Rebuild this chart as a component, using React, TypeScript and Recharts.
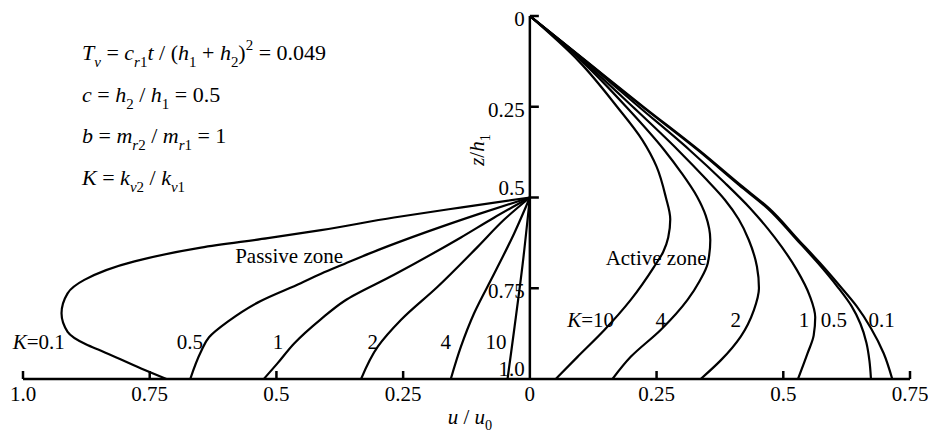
import React from "react";
import { LineChart, Line, XAxis, YAxis, ReferenceLine, ReferenceDot } from "recharts";

// Horizontal displacement u/u0 (passive side negative, active side positive) against depth z/h1.
const ACTIVE_K01 = [[0, 0], [0.112, 0.125], [0.224, 0.25], [0.333, 0.369], [0.416, 0.466], [0.472, 0.53], [0.53, 0.617], [0.572, 0.68], [0.613, 0.746], [0.645, 0.8], [0.673, 0.86], [0.698, 0.929], [0.715, 1.0]];
const ACTIVE_K05 = [[0, 0], [0.111, 0.125], [0.222, 0.25], [0.331, 0.369], [0.413, 0.466], [0.469, 0.53], [0.527, 0.617], [0.568, 0.68], [0.607, 0.746], [0.635, 0.8], [0.652, 0.847], [0.664, 0.9], [0.67, 0.95], [0.673, 1.0]];
const ACTIVE_K1 = [[0, 0], [0.11, 0.125], [0.215, 0.25], [0.315, 0.369], [0.385, 0.46], [0.435, 0.53], [0.483, 0.61], [0.527, 0.7], [0.552, 0.77], [0.563, 0.83], [0.56, 0.88], [0.548, 0.929], [0.529, 1.0]];
const ACTIVE_K2 = [[0, 0], [0.106, 0.125], [0.203, 0.25], [0.292, 0.369], [0.348, 0.45], [0.385, 0.507], [0.412, 0.56], [0.432, 0.617], [0.448, 0.69], [0.452, 0.75], [0.442, 0.81], [0.416, 0.883], [0.377, 0.948], [0.337, 1.0]];
const ACTIVE_K4 = [[0, 0], [0.103, 0.125], [0.19, 0.25], [0.265, 0.369], [0.298, 0.43], [0.33, 0.498], [0.347, 0.55], [0.356, 0.617], [0.351, 0.681], [0.335, 0.73], [0.311, 0.782], [0.258, 0.865], [0.199, 0.939], [0.163, 1.0]];
const ACTIVE_K10 = [[0, 0], [0.097, 0.125], [0.172, 0.25], [0.222, 0.342], [0.25, 0.415], [0.268, 0.498], [0.277, 0.56], [0.273, 0.61], [0.263, 0.65], [0.245, 0.691], [0.199, 0.782], [0.147, 0.865], [0.094, 0.939], [0.051, 1.0]];

const PASSIVE_K01 = [[0, 0.5], [-0.134, 0.527], [-0.268, 0.555], [-0.412, 0.59], [-0.517, 0.612], [-0.649, 0.638], [-0.78, 0.676], [-0.879, 0.727], [-0.912, 0.764], [-0.924, 0.819], [-0.912, 0.87], [-0.875, 0.905], [-0.846, 0.922], [-0.767, 0.971], [-0.717, 1.0]];
const PASSIVE_K05 = [[0, 0.5], [-0.1, 0.545], [-0.202, 0.594], [-0.3, 0.645], [-0.366, 0.683], [-0.412, 0.71], [-0.452, 0.736], [-0.531, 0.785], [-0.596, 0.842], [-0.633, 0.885], [-0.649, 0.925], [-0.67, 1.0]];
const PASSIVE_K1 = [[0, 0.5], [-0.07, 0.555], [-0.136, 0.61], [-0.268, 0.713], [-0.366, 0.785], [-0.412, 0.835], [-0.465, 0.902], [-0.498, 0.957], [-0.525, 1.0]];
const PASSIVE_K2 = [[0, 0.5], [-0.05, 0.56], [-0.103, 0.636], [-0.182, 0.746], [-0.254, 0.837], [-0.3, 0.911], [-0.333, 1.0]];
const PASSIVE_K4 = [[0, 0.5], [-0.031, 0.599], [-0.07, 0.709], [-0.11, 0.819], [-0.136, 0.911], [-0.156, 1.0]];
const PASSIVE_K10 = [[0, 0.5], [-0.014, 0.681], [-0.031, 0.865], [-0.044, 1.0]];

const SERIES = [
  { id: "a01", pts: ACTIVE_K01 },
  { id: "a05", pts: ACTIVE_K05 },
  { id: "a1", pts: ACTIVE_K1 },
  { id: "a2", pts: ACTIVE_K2 },
  { id: "a4", pts: ACTIVE_K4 },
  { id: "a10", pts: ACTIVE_K10 },
  { id: "p01", pts: PASSIVE_K01 },
  { id: "p05", pts: PASSIVE_K05 },
  { id: "p1", pts: PASSIVE_K1 },
  { id: "p2", pts: PASSIVE_K2 },
  { id: "p4", pts: PASSIVE_K4 },
  { id: "p10", pts: PASSIVE_K10 },
];

const X_TICKS = [-1, -0.75, -0.5, -0.25, 0, 0.25, 0.5, 0.75];
const X_TICK_LABELS = ["1.0", "0.75", "0.5", "0.25", "0", "0.25", "0.5", "0.75"];
const Y_TICKS = [0, 0.25, 0.5, 0.75, 1.0];
const Y_TICK_LABELS = ["0", "0.25", "0.5", "0.75", "1.0"];

// Curve annotations placed in data coordinates (u, z = text baseline)
const CURVE_LABELS = [
  { k: "0.1", prefix: true, u: -0.969, z: 0.917 },
  { k: "0.5", prefix: false, u: -0.671, z: 0.917 },
  { k: "1", prefix: false, u: -0.497, z: 0.917 },
  { k: "2", prefix: false, u: -0.31, z: 0.917 },
  { k: "4", prefix: false, u: -0.166, z: 0.917 },
  { k: "10", prefix: false, u: -0.067, z: 0.917 },
  { k: "10", prefix: true, u: 0.12, z: 0.856 },
  { k: "4", prefix: false, u: 0.258, z: 0.856 },
  { k: "2", prefix: false, u: 0.406, z: 0.856 },
  { k: "1", prefix: false, u: 0.541, z: 0.856 },
  { k: "0.5", prefix: false, u: 0.6, z: 0.856 },
  { k: "0.1", prefix: false, u: 0.694, z: 0.856 },
];
const ZONE_LABELS = [
  { text: "Passive zone", u: -0.475, z: 0.68 },
  { text: "Active zone", u: 0.249, z: 0.686 },
];

const FONT = "Liberation Serif, Tinos, Times New Roman, DejaVu Serif, serif";
const LABEL_SIZE = 21;
const TXT: React.CSSProperties = { fontFamily: FONT };

type Seg = { t: string; i?: boolean; s?: "sub" | "sup" };

function rich(segs: Seg[], size: number) {
  let shift = 0;
  return segs.map((sg, k) => {
    const target = sg.s === "sub" ? size * 0.3 : sg.s === "sup" ? -size * 0.45 : 0;
    const dy = target - shift;
    shift = target;
    return (
      <tspan key={k} dy={dy} fontStyle={sg.i ? "italic" : "normal"} fontSize={sg.s ? size * 0.68 : size}>
        {sg.t}
      </tspan>
    );
  });
}

const FORMULA: Seg[][] = [
  [
    { t: "T", i: true }, { t: "v", i: true, s: "sub" }, { t: " = " }, { t: "c", i: true },
    { t: "r", i: true, s: "sub" }, { t: "1", s: "sub" }, { t: "t", i: true }, { t: " / (" },
    { t: "h", i: true }, { t: "1", s: "sub" }, { t: " + " }, { t: "h", i: true }, { t: "2", s: "sub" },
    { t: ")" }, { t: "2", s: "sup" }, { t: " = 0.049" },
  ],
  [
    { t: "c", i: true }, { t: " = " }, { t: "h", i: true }, { t: "2", s: "sub" }, { t: " / " },
    { t: "h", i: true }, { t: "1", s: "sub" }, { t: " = 0.5" },
  ],
  [
    { t: "b", i: true }, { t: " = " }, { t: "m", i: true }, { t: "r", i: true, s: "sub" }, { t: "2", s: "sub" },
    { t: " / " }, { t: "m", i: true }, { t: "r", i: true, s: "sub" }, { t: "1", s: "sub" }, { t: " = 1" },
  ],
  [
    { t: "K", i: true }, { t: " = " }, { t: "k", i: true }, { t: "v", i: true, s: "sub" }, { t: "2", s: "sub" },
    { t: " / " }, { t: "k", i: true }, { t: "v", i: true, s: "sub" }, { t: "1", s: "sub" },
  ],
];
const FORMULA_BASELINES = [60, 102, 143, 185];

const XTick = (props: any) => {
  const { x, y, index } = props;
  const v = X_TICKS[index];
  return (
    <g>
      {v !== 0 && <line x1={x} x2={x} y1={y} y2={y - 8} stroke="#000" strokeWidth={2.5} />}
      <text x={x} y={y + 22} textAnchor="middle" style={TXT} fontSize={LABEL_SIZE} fill="#000">
        {X_TICK_LABELS[index]}
      </text>
    </g>
  );
};

const yTickShape = (idx: number) => (props: any) => {
  const { cx, cy } = props;
  const v = Y_TICKS[idx];
  const dy = v === 0.5 || v === 1 ? -3 : 10;
  return (
    <g>
      {v !== 1 && <line x1={cx} x2={cx + 9} y1={cy} y2={cy} stroke="#000" strokeWidth={2.5} />}
      <text x={cx - 5} y={cy + dy} textAnchor="end" style={TXT} fontSize={LABEL_SIZE} fill="#000">
        {Y_TICK_LABELS[idx]}
      </text>
    </g>
  );
};

const curveLabelShape = (lab: { k: string; prefix: boolean }) => (props: any) => {
  const { cx, cy } = props;
  return (
    <text x={cx} y={cy} textAnchor="middle" style={TXT} fontSize={LABEL_SIZE} fill="#000">
      {lab.prefix && <tspan fontStyle="italic">K</tspan>}
      {lab.prefix ? "=" + lab.k : lab.k}
    </text>
  );
};

const zoneLabelShape = (text: string) => (props: any) => (
  <text x={props.cx} y={props.cy} textAnchor="middle" style={TXT} fontSize={LABEL_SIZE} fill="#000">
    {text}
  </text>
);

export default function App() {
  return (
    <div style={{ position: "relative", width: 928, height: 432, background: "#fff" }}>
      <style>{"body{margin:0;background:#fff}"}</style>
      <LineChart width={928} height={432} margin={{ top: 16, right: 18, bottom: 13, left: 23 }}>
        <XAxis
          type="number"
          dataKey="u"
          domain={[-1, 0.75]}
          ticks={X_TICKS}
          interval={0}
          height={40}
          tickSize={0}
          tickMargin={0}
          tickLine={false}
          tick={<XTick />}
          axisLine={{ stroke: "#000", strokeWidth: 2.5 }}
          allowDataOverflow
        />
        <YAxis type="number" dataKey="z" domain={[0, 1]} reversed hide allowDataOverflow />
        <ReferenceLine x={0} stroke="#000" strokeWidth={2.5} ifOverflow="visible" />
        {Y_TICKS.map((v, i) => (
          <ReferenceDot key={"yt" + i} x={0} y={v} r={0} ifOverflow="visible" shape={yTickShape(i)} />
        ))}
        {SERIES.map((s) => (
          <Line
            key={s.id}
            data={s.pts.map(([u, z]) => ({ u, z }))}
            dataKey="z"
            type="monotoneY"
            stroke="#000"
            strokeWidth={2.2}
            dot={false}
            activeDot={false}
            isAnimationActive={false}
          />
        ))}
        {CURVE_LABELS.map((l, i) => (
          <ReferenceDot key={"cl" + i} x={l.u} y={l.z} r={0} ifOverflow="visible" shape={curveLabelShape(l)} />
        ))}
        {ZONE_LABELS.map((l, i) => (
          <ReferenceDot key={"zl" + i} x={l.u} y={l.z} r={0} ifOverflow="visible" shape={zoneLabelShape(l.text)} />
        ))}
      </LineChart>
      <svg width={928} height={432} style={{ position: "absolute", left: 0, top: 0, pointerEvents: "none" }}>
        <g fill="#000" style={{ fontFamily: FONT, whiteSpace: "pre" }}>
          {FORMULA.map((segs, i) => (
            <text key={i} x={82} y={FORMULA_BASELINES[i]} fontSize={22}>
              {rich(segs, 22)}
            </text>
          ))}
          <text x={470} y={424} textAnchor="middle" fontSize={21}>
            {rich([{ t: "u", i: true }, { t: " / " }, { t: "u", i: true }, { t: "0", s: "sub" }], 21)}
          </text>
          <text transform="translate(484,150) rotate(-90)" textAnchor="middle" fontSize={21}>
            {rich([{ t: "z", i: true }, { t: "/" }, { t: "h", i: true }, { t: "1", s: "sub" }], 21)}
          </text>
        </g>
      </svg>
    </div>
  );
}
